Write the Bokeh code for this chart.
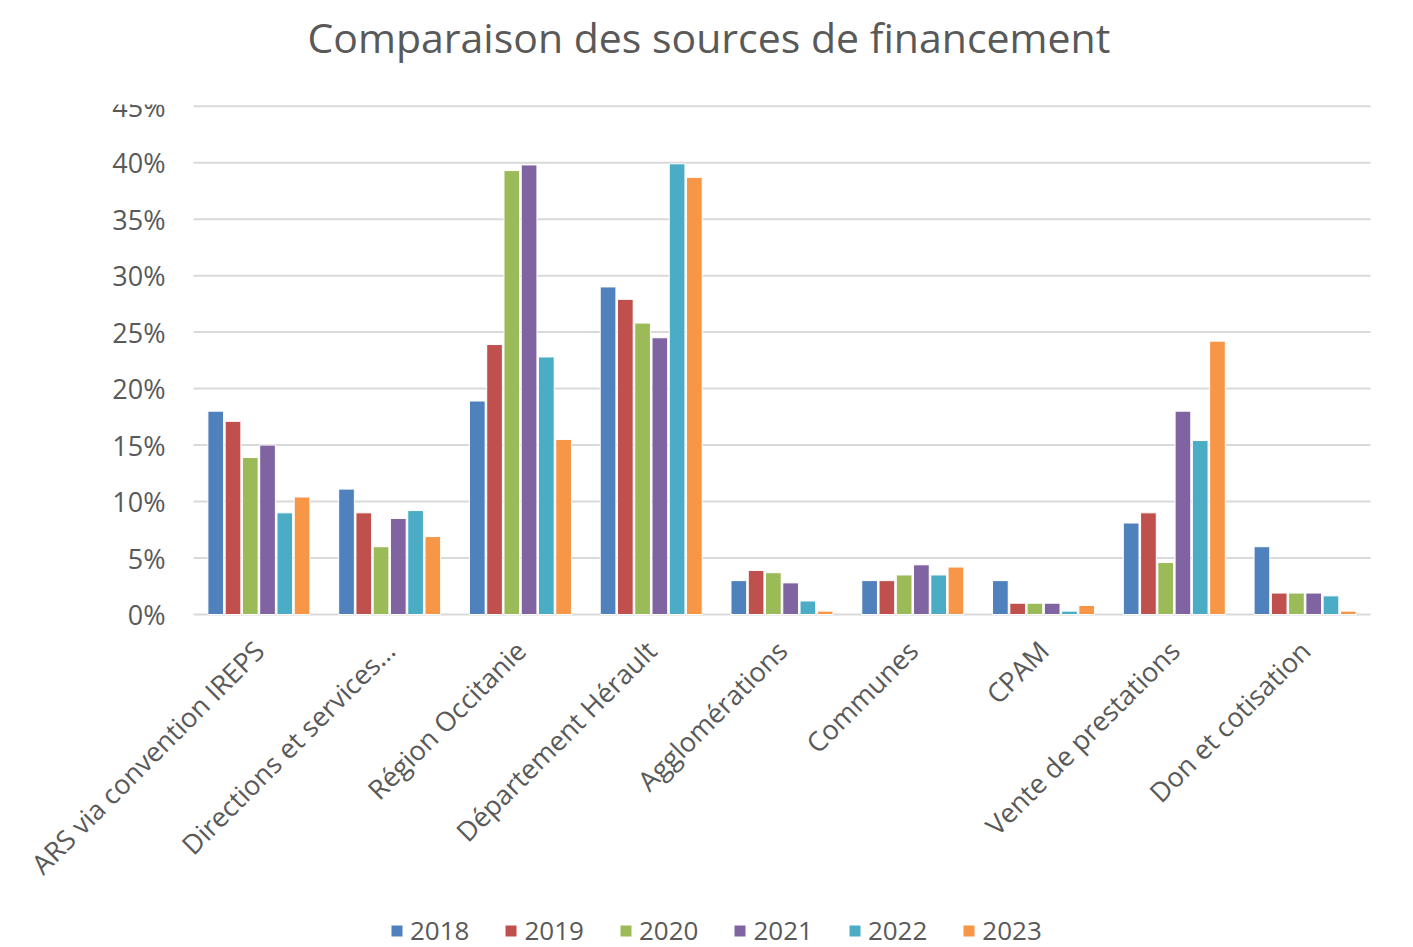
from bokeh.plotting import figure
from bokeh.models import Range1d, FixedTicker, Legend, LegendItem, Title, ColumnDataSource
from bokeh.transform import dodge
from bokeh.core.properties import value
from bokeh.embed import file_html
from bokeh.resources import INLINE

categories = ["ARS via convention IREPS", "Directions et services…", "Région Occitanie",
              "Département Hérault", "Agglomérations", "Communes", "CPAM",
              "Vente de prestations", "Don et cotisation"]
years = ["2018", "2019", "2020", "2021", "2022", "2023"]
v2018 = [18.0, 11.1, 18.9, 29.0, 3.0, 3.0, 3.0, 8.1, 6.0]
v2019 = [17.1, 9.0, 23.9, 27.9, 3.9, 3.0, 1.0, 9.0, 1.9]
v2020 = [13.9, 6.0, 39.3, 25.8, 3.7, 3.5, 1.0, 4.6, 1.9]
v2021 = [15.0, 8.5, 39.8, 24.5, 2.8, 4.4, 1.0, 18.0, 1.9]
v2022 = [9.0, 9.2, 22.8, 39.9, 1.2, 3.5, 0.3, 15.4, 1.65]
v2023 = [10.4, 6.9, 15.5, 38.7, 0.3, 4.2, 0.8, 24.2, 0.3]
y_ticks = [0, 5, 10, 15, 20, 25, 30, 35, 40, 45]
y_tick_labels = ["0%", "5%", "10%", "15%", "20%", "25%", "30%", "35%", "40%", "45%"]
colors = ["#4F81BD", "#C0504D", "#9BBB59", "#8064A2", "#4BACC6", "#F79646"]

series = [v2018, v2019, v2020, v2021, v2022, v2023]
positions = list(range(len(categories)))
data = {"xi": positions, "cat": categories}
for y, s in zip(years, series):
    data["y" + y] = s
src = ColumnDataSource(data)

TXT = "#595959"
FONT = "Open Sans"

# frame covers the whole canvas width and runs to the bottom; axis sits at y = 0
p = figure(x_range=Range1d(-1.976, 8.829), y_range=Range1d(-29.48, 45.15),
           frame_width=1413, frame_height=843,
           min_border_left=0, min_border_right=0, min_border_top=104, min_border_bottom=0,
           output_backend="svg", toolbar_location=None)

# horizontal gridlines over the category span
n = len(categories)
p.segment(x0=[-0.5] * len(y_ticks), y0=y_ticks, x1=[n - 0.5] * len(y_ticks), y1=y_ticks,
          line_color="#d9d9d9", line_width=2)

step = 0.132
renderers = []
for i, (y, c) in enumerate(zip(years, colors)):
    r = p.vbar(x=dodge("xi", (i - 2.5) * step), top="y" + y,
               width=0.12, source=src, fill_color=c, line_color="white", line_width=1)
    renderers.append(r)

# y tick labels
p.text(x=[-0.714] * len(y_ticks), y=y_ticks, text=y_tick_labels,
       text_align="right", text_baseline="middle",
       text_font=value(FONT), text_font_size=value("27px"), text_color=TXT)

# spacer between frame and title
p.add_layout(Title(text=" ", text_font_size="1px", standoff=33), "above")
title = Title(text="Comparaison des sources de financement", align="left", offset=307,
              text_font=FONT, text_font_size="41px", text_font_style="normal",
              text_color=TXT, standoff=8)
p.add_layout(title, "above")

p.outline_line_color = None
p.background_fill_color = "white"
p.border_fill_color = "white"
p.xgrid.visible = False
p.ygrid.visible = False
p.yaxis.visible = False

p.xaxis.fixed_location = 0
p.xaxis.ticker = FixedTicker(ticks=positions)
p.xaxis.major_label_overrides = {i: c for i, c in zip(positions, categories)}
p.xaxis.axis_line_color = None
p.xaxis.major_tick_line_color = None
p.xaxis.minor_tick_line_color = None
p.xaxis.major_label_orientation = 0.785398
p.xaxis.major_label_text_font = FONT
p.xaxis.major_label_text_font_size = "27px"
p.xaxis.major_label_text_color = TXT
p.xaxis.major_label_standoff = 25

items = [LegendItem(label=y, renderers=[r]) for y, r in zip(years, renderers)]
legend = Legend(items=items, orientation="horizontal", location=(389, -1),
                label_text_font=FONT, label_text_font_size="26px", label_text_color=TXT,
                glyph_width=15, glyph_height=15, spacing=34, label_standoff=6,
                padding=0, margin=0,
                border_line_color=None, background_fill_alpha=0)
p.add_layout(legend, "center")

open("out.html", "w").write(file_html(p, INLINE))
